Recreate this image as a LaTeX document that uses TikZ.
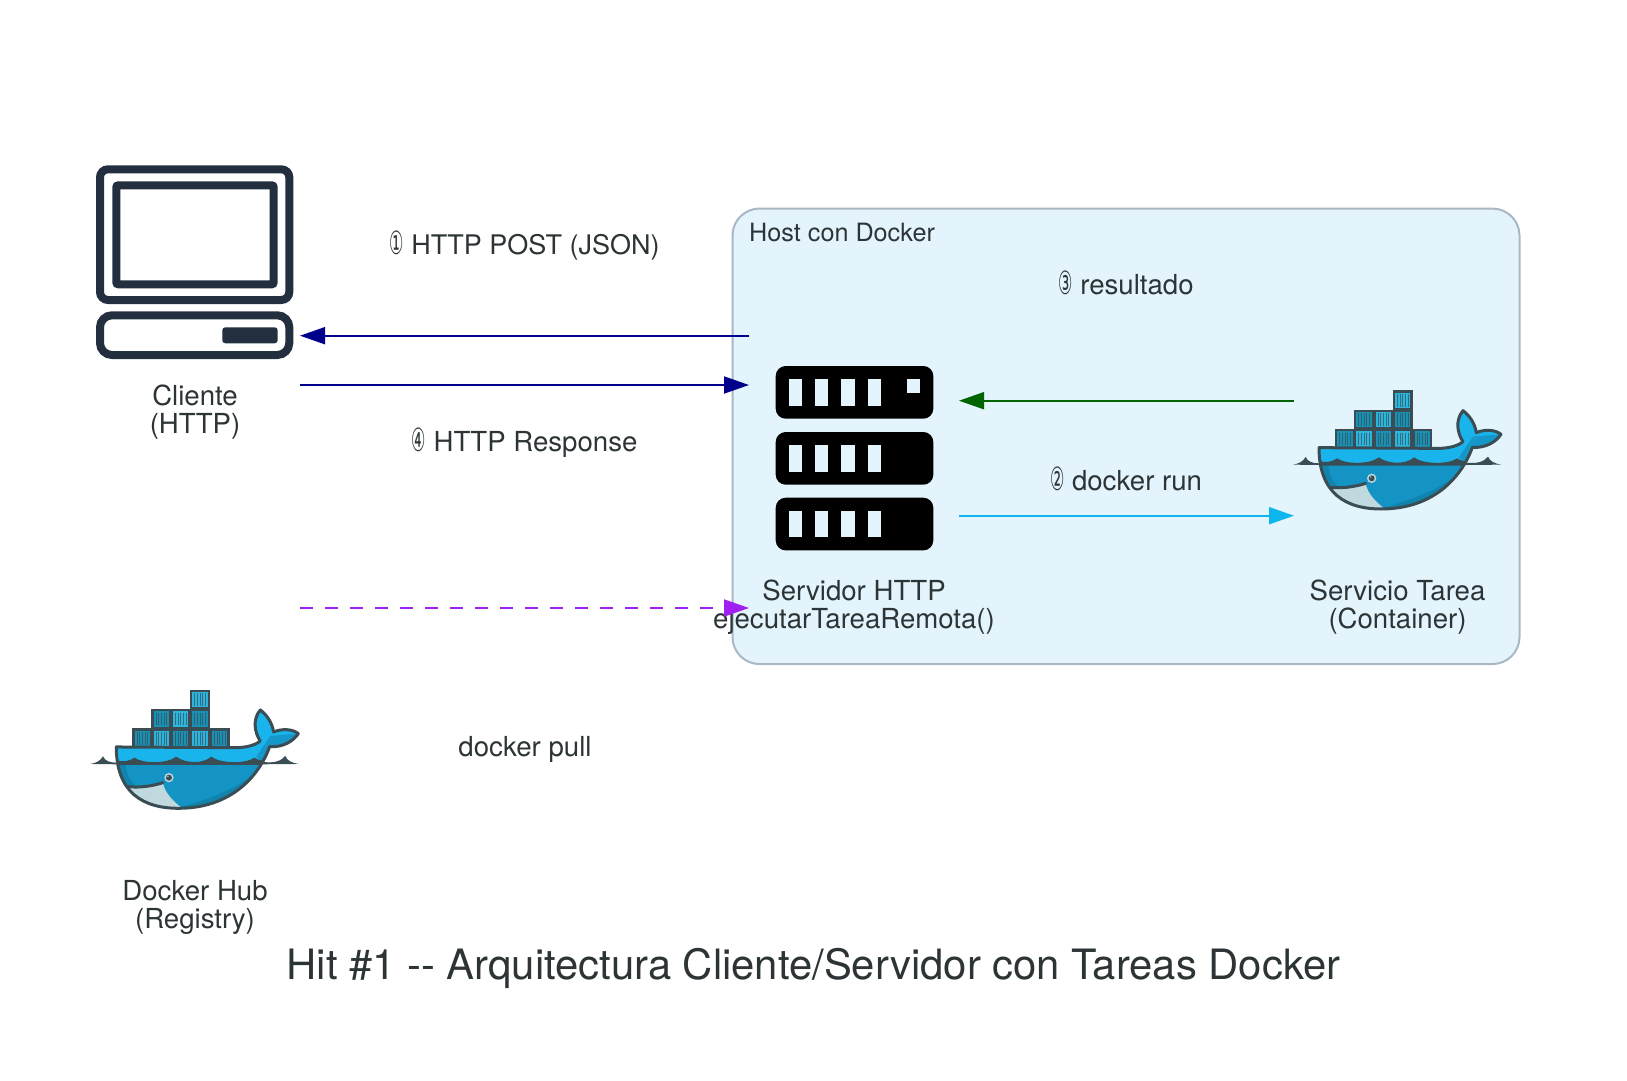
\documentclass[tikz,border=0pt]{standalone}
\usepackage{fontspec}
\setmainfont{TeX Gyre Heros}
\newfontfamily\keyFont[FakeStretch=0.5]{DejaVu Sans}
\usetikzlibrary{arrows.meta}
\definecolor{inkText}{HTML}{2D3436}
\definecolor{hostFill}{HTML}{E3F4FD}
\definecolor{hostLine}{HTML}{AAB7C4}
\definecolor{clientInk}{HTML}{232F3E}
\definecolor{whaleLine}{HTML}{3A4D54}
\definecolor{whaleTop}{HTML}{1AB4EC}
\definecolor{whaleMid}{HTML}{1494C5}
\definecolor{whaleLow}{HTML}{1184AE}
\definecolor{whaleJaw}{HTML}{BFD9DF}
\definecolor{boxDark}{HTML}{1891B4}
\definecolor{boxLight}{HTML}{2CB6DE}
\definecolor{linkBlue}{HTML}{00008B}
\definecolor{linkGreen}{HTML}{006400}
\definecolor{linkCyan}{HTML}{0DB7ED}
\definecolor{linkPurple}{HTML}{A020F0}
\newcommand{\keyCap}[1]{{\fontsize{32}{28}\keyFont #1}}
\tikzset{
  iconBox/.style={shape=rectangle,draw=none,inner sep=0pt,outer sep=0pt,minimum width=210pt},
  iconLabel/.style={shape=rectangle,draw=none,inner sep=0pt,align=center,text=inkText,font=\fontsize{27.6}{28.2}\selectfont},
  linkLabel/.style={iconLabel},
  link/.style={line width=1.9pt,-{Triangle[length=25pt,width=17pt]}},
  whale/.pic={
    \begin{scope}[scale=0.3333]
      % sea either side of the body
      \fill[whaleLine] (72,284) .. controls (90,281) and (102,275) .. (110,261) .. controls (116,275) and (130,280) .. (150,280) -- (150,285) -- cycle;
      \fill[whaleLine] (590,278) .. controls (625,282) and (645,275) .. (657,260) .. controls (663,275) and (678,281) .. (697,284) -- (590,285) -- cycle;
      % containers
      \foreach \cx/\cy/\cc in {198/177/boxDark,255/177/boxLight,313/177/boxDark,371/177/boxLight,430/177/boxDark,255/119/boxDark,313/119/boxLight,371/119/boxDark,371/61/boxLight}{
        \fill[whaleLine] (\cx,\cy) rectangle ++(60,60);
        \fill[\cc] (\cx+7,\cy+7) rectangle ++(46,46);
        \foreach \sx in {14,22,30,38,46}
          \draw[\cc!30!whaleLine,line width=0.8pt] (\cx+\sx,\cy+11) -- ++(0,38);
      }
      % body
      \begin{scope}
        \clip (150,233) -- (490,235) .. controls (530,237) and (565,230) .. (582,215) .. controls (565,190) and (558,150) .. (582,122) .. controls (600,135) and (618,160) .. (622,188) .. controls (645,178) and (678,178) .. (696,193) .. controls (682,215) and (650,235) .. (610,232) .. controls (590,290) and (520,415) .. (340,417) .. controls (230,418) and (150,370) .. (150,233) -- cycle;
        \fill[whaleTop] (140,110) rectangle (710,290);
        \fill[whaleMid!90!whaleTop] (696,193) -- (612,200) -- (570,262) -- (600,290) -- (640,240) -- cycle;
        \fill[whaleMid] (140,283) rectangle (710,430);
        \fill[whaleLow] (140,283) -- (178,283) .. controls (180,320) and (195,345) .. (225,360) -- (300,430) -- (140,430) -- cycle;
        \fill[whaleLow] (345,412) .. controls (450,385) and (550,340) .. (595,283) -- (710,283) -- (710,430) -- (345,430) -- cycle;
        \fill[whaleJaw] (180,352) .. controls (220,356) and (260,350) .. (290,340) .. controls (295,370) and (320,395) .. (345,415) -- (250,430) -- (180,400) -- cycle;
        \fill[whaleLine] (150,272) .. controls (170,280) and (190,275) .. (205,265) .. controls (225,282) and (300,285) .. (330,262) .. controls (355,282) and (410,285) .. (435,262) .. controls (460,282) and (535,285) .. (565,265) .. controls (575,272) and (585,275) .. (600,272) -- (600,287) -- (150,287) -- cycle;
        \draw[whaleLine,line width=3pt,line cap=round] (185,352) .. controls (220,356) and (260,350) .. (290,340);
      \end{scope}
      \draw[whaleLine,line width=3pt,line join=round] (150,233) -- (490,235) .. controls (530,237) and (565,230) .. (582,215) .. controls (565,190) and (558,150) .. (582,122) .. controls (600,135) and (618,160) .. (622,188) .. controls (645,178) and (678,178) .. (696,193) .. controls (682,215) and (650,235) .. (610,232) .. controls (590,290) and (520,415) .. (340,417) .. controls (230,418) and (150,370) .. (150,233) -- cycle;
      % eye
      \fill[whaleJaw] (308,325) circle (14);
      \fill[whaleLine] (308,325) circle (9);
      \fill[white] (305,321) circle (2);
    \end{scope}
  }
}
\begin{document}
\begin{tikzpicture}[x=1pt,y=-1pt]
  \useasboundingbox (0,0) rectangle (1627,1081);
  % host
  \node (host) [shape=rectangle,draw=hostLine,fill=hostFill,line width=2pt,rounded corners=27pt,inner sep=0pt,minimum width=787pt,minimum height=455.5pt] at (1126,436.3) {};
  \node (hostTitle) [linkLabel,anchor=base west,font=\fontsize{25.2}{28}\selectfont] at (749,241) {Host con Docker};
  % invisible boxes the links attach to
  \node (cliente) [iconBox,minimum height=300pt] at (195,262) {};
  \node (servidor) [iconBox,minimum height=300pt] at (854,458) {};
  \node (tarea) [iconBox,minimum height=300pt] at (1399,458) {};
  \node (hub) [iconBox,minimum height=304pt] at (195,760) {};
  % cliente icon
  \draw[clientInk,line width=8pt,rounded corners=8pt] (100,169.3) rectangle (289.3,300);
  \draw[clientInk,line width=8pt,rounded corners=2pt] (116.3,185.3) rectangle (273.7,284.3);
  \draw[clientInk,line width=8pt,rounded corners=12pt] (100,315.3) rectangle (289.3,355);
  \fill[clientInk,rounded corners=3pt] (222.3,327.3) rectangle (277.7,343.3);
  % servidor icon
  \foreach \by in {366,432,497.7}{
    \fill[black,rounded corners=10pt] (775.7,\by) rectangle ++(157.6,52.7);
    \foreach \bx in {788.7,815,841.3,867.7}
      \fill[hostFill] (\bx,\by+13.3) rectangle ++(13.3,26.3);
  }
  \fill[hostFill] (907,379.3) rectangle ++(13.3,13.3);
  % whales
  \pic at (1269,370) {whale};
  \pic at (66.3,669.3) {whale};
  % labels
  \node (clienteLabel) [iconLabel] at (195,412) {Cliente\\(HTTP)};
  \node (servidorLabel) [iconLabel] at (854,607.5) {Servidor HTTP\\ejecutarTareaRemota()};
  \node (tareaLabel) [iconLabel] at (1397.5,607.5) {Servicio Tarea\\(Container)};
  \node (hubLabel) [iconLabel] at (195,907.5) {Docker Hub\\(Registry)};
  \node (postLabel) [linkLabel,font=\fontsize{27}{28.2}\selectfont] at (524.5,246) {\keyCap{①} HTTP POST (JSON)};
  \node (respLabel) [linkLabel] at (524.5,442.5) {\keyCap{④} HTTP Response};
  \node (pullLabel) [linkLabel] at (525,749) {docker pull};
  \node (runLabel) [linkLabel] at (1126,478.5) {\keyCap{②} docker run};
  \node (resLabel) [linkLabel] at (1126,282.5) {\keyCap{③} resultado};
  \node (title) [iconLabel,font=\fontsize{41.8}{46}\selectfont] at (813.5,968) {Hit \#1 -{}- Arquitectura Cliente/Servidor con Tareas Docker};
  % links
  \draw[link,linkBlue] ([yshift=122.3pt]servidor.west) -- ([yshift=-73.7pt]cliente.east);
  \draw[link,linkBlue] ([yshift=-123pt]cliente.east) -- ([yshift=73pt]servidor.west);
  \draw[link,linkGreen] ([yshift=57.3pt]tarea.west) -- ([yshift=57.3pt]servidor.east);
  \draw[link,linkCyan] ([yshift=-57.7pt]servidor.east) -- ([yshift=-57.7pt]tarea.west);
  \draw[link,linkPurple,dash pattern=on 13pt off 12pt] (hub.north east) -- (servidor.south west);
\end{tikzpicture}
\end{document}
